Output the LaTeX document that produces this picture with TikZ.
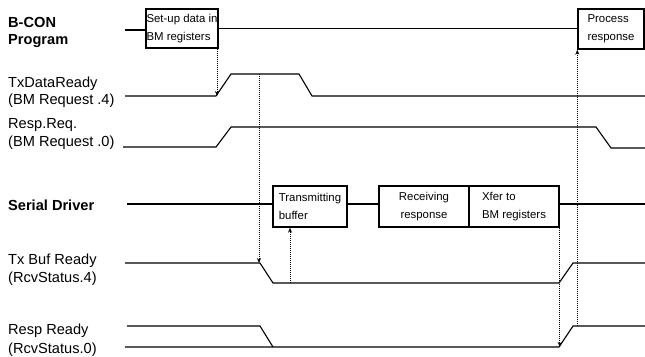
\documentclass[tikz,border=0pt]{standalone}
\usepackage{fontspec}
\setmainfont{Liberation Sans}
\usetikzlibrary{arrows.meta}
\begin{document}
\begin{tikzpicture}[x=1pt,y=-1pt,
  sig/.style={line width=1.1pt},
  lbl/.style={anchor=base west,inner sep=0pt,font=\fontsize{14.6}{17}\selectfont},
  blbl/.style={anchor=base west,inner sep=0pt,font=\fontsize{14.6}{17}\selectfont\bfseries},
  evbox/.style={draw,line width=1.4pt,inner sep=0pt,font=\fontsize{11.4}{18}\selectfont},
  dotarrow/.style={densely dotted,line width=1pt,-{Stealth[length=5pt,width=4pt]}}]
\useasboundingbox (0,0) rectangle (645,356);

% labels
\node[blbl] (l1a) at (8,27.5) {B-CON};
\node[blbl] (l1b) at (8,44.5) {Program};
\node[lbl] (l2a) at (8,87) {TxDataReady};
\node[lbl] (l2b) at (8,104) {(BM Request .4)};
\node[lbl] (l3a) at (8,128) {Resp.Req.};
\node[lbl] (l3b) at (8,146) {(BM Request .0)};
\node[blbl] (l4) at (8,210.5) {Serial Driver};
\node[lbl] (l5a) at (8,264) {Tx Buf Ready};
\node[lbl] (l5b) at (8,282.5) {(RcvStatus.4)};
\node[lbl] (l6a) at (8,334.5) {Resp Ready};
\node[lbl] (l6b) at (8,353) {(RcvStatus.0)};

% boxes
\node[evbox,minimum width=72pt,minimum height=39pt,align=left] (setup) at (182,28.5) {Set-up data in\\BM registers};
\node[evbox,minimum width=66pt,minimum height=40pt,align=left] (proc) at (611,29) {Process\\response};
\node[evbox,minimum width=74pt,minimum height=41pt,align=left] (txbuf) at (310,206.5) {Transmitting\\buffer};
\node[evbox,minimum width=90pt,minimum height=41pt,align=center] (recv) at (424,206.5) {Receiving\\response};
\node[evbox,minimum width=90pt,minimum height=41pt,align=left] (xfer) at (514,206.5) {Xfer to\\BM registers};

% B-CON program line
\coordinate (b0) at (125,30);
\draw[sig] (b0) -- (b0 -| setup.west);
\draw[sig] (setup.east) -- (setup.east -| proc.west);

% TxDataReady
\coordinate (t0) at (125,96);
\coordinate (t1) at (216,96);
\coordinate (t2) at (231,74);
\coordinate (t3) at (299,74);
\coordinate (t4) at (312,96);
\coordinate (t5) at (645,96);
\draw[sig] (t0) -- (t1) -- (t2) -- (t3) -- (t4) -- (t5);

% Resp.Req.
\coordinate (r0) at (123,147);
\coordinate (r1) at (216,147);
\coordinate (r2) at (231,127);
\coordinate (r3) at (596,127);
\coordinate (r4) at (611,148);
\coordinate (r5) at (645,148);
\draw[sig] (r0) -- (r1) -- (r2) -- (r3) -- (r4) -- (r5);

% Serial driver
\coordinate (s0) at (127,204);
\coordinate (s1) at (645,204);
\draw[sig] (s0) -- (s0 -| txbuf.west);
\draw[sig] (txbuf.east |- s0) -- (recv.west |- s0);
\draw[sig] (xfer.east |- s0) -- (s1);

% Tx Buf Ready
\coordinate (b1) at (125,263);
\coordinate (b2) at (260,263);
\coordinate (b3) at (273,283);
\coordinate (b4) at (559,283);
\coordinate (b5) at (573,263);
\coordinate (b6) at (645,263);
\coordinate (bu) at (290,283);
\draw[sig] (b1) -- (b2) -- (b3) -- (b4) -- (b5) -- (b6);

% Resp Ready
\coordinate (p0) at (127,326);
\coordinate (p1) at (260,326);
\coordinate (p2) at (273,347);
\coordinate (q0) at (125,347);
\coordinate (q1) at (559,347);
\coordinate (q2) at (573,326);
\coordinate (q3) at (645,326);
\draw[sig] (p0) -- (p1) -- (p2);
\draw[sig] (q0) -- (q1) -- (q2) -- (q3);

% dotted arrows
\draw[dotarrow] (setup.south east -| t1) ++(1,0) -- ([xshift=1pt]t1);
\draw[dotarrow] (b2 |- t2) ++(-1,0) -- ([xshift=-1pt]b2);
\draw[dotarrow] (bu) -- (bu |- txbuf.south);
\draw[dotarrow] (xfer.south east) -- (xfer.south east |- q1);
\draw[dotarrow] (proc.south west |- q2) -- (proc.south west);
\end{tikzpicture}
\end{document}
